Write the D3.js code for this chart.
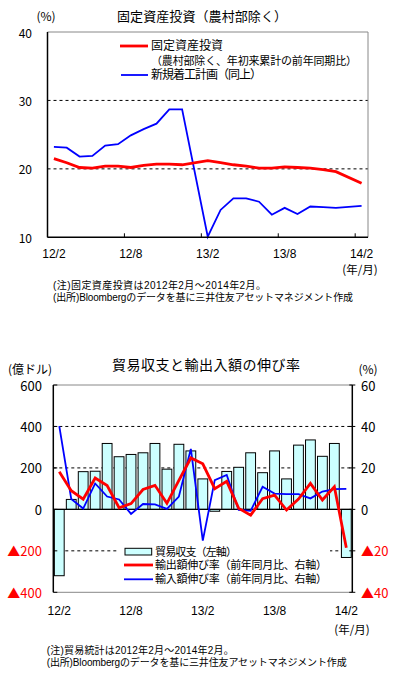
<!DOCTYPE html>
<html>
<head>
<meta charset="utf-8">
<script src="https://cdn.jsdelivr.net/npm/d3@7"></script>
<style>
  body { margin: 0; background: #fff; }
  text { font-family: "Noto Sans CJK JP", sans-serif; fill: #000; }
  text.num, text.mix { font-family: "Liberation Sans", "Noto Sans CJK JP", sans-serif; }
</style>
</head>
<body>
<div id="content"></div>
<script>
// months 2012/2 - 2014/2
const months = ['12/2','12/3','12/4','12/5','12/6','12/7','12/8','12/9','12/10','12/11','12/12',
  '13/1','13/2','13/3','13/4','13/5','13/6','13/7','13/8','13/9','13/10','13/11','13/12','14/1','14/2'];
const xTickLabels = ['12/2', '12/8', '13/2', '13/8', '14/2'];

// chart 1 : fixed asset investment (%), Jan is not published
const fixedInvest = [21.5, 20.9, 20.2, 20.1, 20.4, 20.4, 20.2, 20.5, 20.7, 20.7, 20.6, null,
  21.2, 20.9, 20.6, 20.4, 20.1, 20.1, 20.3, 20.2, 20.1, 19.9, 19.6, null, 17.9];
const newProjects = [23.2, 23.1, 21.8, 21.9, 23.4, 23.6, 24.9, 25.8, 26.6, 28.7, 28.7, null,
  10.1, 14.0, 15.7, 15.7, 15.2, 13.3, 14.3, 13.4, 14.5, 14.4, 14.3, null, 14.6];
const y1Ticks = [10, 20, 30, 40];

// chart 2 : trade balance (100m USD) and growth (%)
const tradeBalance = [-320, 48, 182, 184, 318, 254, 265, 273, 318, 194, 314, 282, 147, -9,
  183, 203, 273, 177, 282, 147, 310, 335, 256, 318, -232];
const exportGrowth = [18.1, 9.0, 4.9, 15.1, 11.5, 0.8, 2.8, 9.6, 11.6, 2.9, 14.0, 24.8, 22.0,
  10.0, 13.5, 0.5, -2.8, 5.2, 6.9, -0.3, 5.0, 12.5, 4.5, 10.9, -18.5];
const importGrowth = [40.2, 5.0, 0.4, 12.5, 6.2, 4.8, -2.2, 2.6, 2.4, 0.2, 6.2, 29.2, -15.1,
  14.1, 16.6, -0.3, -0.7, 10.9, 7.6, 7.4, 7.4, 5.3, 8.6, 9.8, 9.9];
const yLTicks = [600, 400, 200, 0, -200, -400];
const yRTicks = [60, 40, 20, 0, -20, -40];

let svg = d3.select('#content').append('svg')
  .attr('width', 397).attr('height', 681);

function fmtTick(v) {
  return v < 0 ? '▲' + Math.abs(v) : String(v);
}

// ---------------- chart 1 ----------------
{
  let left = 47.5, right = 368, top = 32, bottom = 237.3;
  let x = d3.scaleBand().domain(months).range([left, right]);
  let y = d3.scaleLinear().domain([10, 40]).range([bottom, top]);
  let g = svg.append('g');

  // dashed grid
  g.selectAll('.grid').data([20, 30]).enter().append('line')
    .attr('x1', left).attr('x2', right)
    .attr('y1', (d) => y(d)).attr('y2', (d) => y(d))
    .attr('stroke', '#000').attr('stroke-dasharray', '3,3');

  // frame
  g.append('line').attr('x1', left).attr('x2', right).attr('y1', top).attr('y2', top).attr('stroke', '#888');
  g.append('line').attr('x1', right).attr('x2', right).attr('y1', top).attr('y2', bottom).attr('stroke', '#888');

  let line = d3.line()
    .x((d) => x(d.m) + x.bandwidth() / 2)
    .y((d) => y(d.v));
  let pts = (arr) => arr.map((v, i) => ({m: months[i], v: v})).filter((d) => d.v != null);

  g.append('path').datum(pts(newProjects)).attr('d', line)
    .attr('fill', 'none').attr('stroke', '#0000ff').attr('stroke-width', 1.8);
  g.append('path').datum(pts(fixedInvest)).attr('d', line)
    .attr('fill', 'none').attr('stroke', '#ff0000').attr('stroke-width', 2.8);

  // axes
  g.append('line').attr('x1', left).attr('x2', left).attr('y1', top).attr('y2', bottom).attr('stroke', '#000').attr('stroke-width', 1.5);
  g.append('line').attr('x1', left).attr('x2', right).attr('y1', bottom).attr('y2', bottom).attr('stroke', '#000').attr('stroke-width', 1.5);
  g.selectAll('.xtick').data(xTickLabels).enter().append('line')
    .attr('x1', (d) => x(d)).attr('x2', (d) => x(d))
    .attr('y1', bottom).attr('y2', bottom - 4).attr('stroke', '#000');

  g.selectAll('.ylab').data(y1Ticks).enter().append('text')
    .attr('x', 32).attr('y', (d) => y(d)).attr('text-anchor', 'end')
    .attr('dominant-baseline', 'central').style('font-size', '12px')
    .text((d) => d);
  g.selectAll('.xlab').data(xTickLabels).enter().append('text')
    .attr('class', 'num')
    .attr('x', (d) => x(d) + x.bandwidth() / 2).attr('y', 254).attr('text-anchor', 'middle')
    .attr('dominant-baseline', 'central').style('font-size', '12px')
    .text((d) => d);

  g.append('text').attr('x', 360).attr('y', 269).attr('text-anchor', 'middle')
    .attr('dominant-baseline', 'central').style('font-size', '11.5px').text('(年/月)');
  g.append('text').attr('x', 46).attr('y', 15).attr('text-anchor', 'middle')
    .attr('dominant-baseline', 'central').style('font-size', '12px').text('(%)');
  g.append('text').attr('x', 202).attr('y', 15).attr('text-anchor', 'middle')
    .attr('dominant-baseline', 'central').style('font-size', '13px')
    .attr('textLength', 170).text('固定資産投資（農村部除く）');

  // legend
  let lg = g.append('g');
  lg.append('line').attr('x1', 120).attr('x2', 148).attr('y1', 46).attr('y2', 46).attr('stroke', '#ff0000').attr('stroke-width', 2.8);
  lg.append('line').attr('x1', 121).attr('x2', 148).attr('y1', 75).attr('y2', 75).attr('stroke', '#0000ff').attr('stroke-width', 1.8);
  lg.append('text').attr('class', 'mix').attr('x', 151).attr('y', 46).attr('dominant-baseline', 'central').style('font-size', '12px').text('固定資産投資');
  lg.append('text').attr('class', 'mix').attr('x', 151).attr('y', 61).attr('dominant-baseline', 'central').style('font-size', '11px')
    .attr('textLength', 206).text('（農村部除く、年初来累計の前年同期比）');
  lg.append('text').attr('class', 'mix').attr('x', 151).attr('y', 75).attr('dominant-baseline', 'central').style('font-size', '12px')
    .attr('textLength', 111).text('新規着工計画（同上）');

  g.append('text').attr('class', 'mix').attr('x', 53).attr('y', 285.5).attr('dominant-baseline', 'central').style('font-size', '10px')
    .attr('textLength', 213).text('(注)固定資産投資は2012年2月～2014年2月。');
  g.append('text').attr('class', 'mix').attr('x', 53).attr('y', 297).attr('dominant-baseline', 'central').style('font-size', '10px')
    .attr('textLength', 300).text('(出所)Bloombergのデータを基に三井住友アセットマネジメント作成');
}

// ---------------- chart 2 ----------------
{
  let left = 53.3, right = 352.3, top = 385, bottom = 592.3;
  let x = d3.scaleBand().domain(months).range([left, right]).paddingInner(0.18).paddingOuter(0.09);
  let xc = (m) => x(m) + x.bandwidth() / 2;
  let yL = d3.scaleLinear().domain([-400, 600]).range([bottom, top]);
  let yR = d3.scaleLinear().domain([-40, 60]).range([bottom, top]);
  let g = svg.append('g');

  g.selectAll('.grid').data([400, 200, -200]).enter().append('line')
    .attr('x1', left).attr('x2', right)
    .attr('y1', (d) => yL(d)).attr('y2', (d) => yL(d))
    .attr('stroke', '#000').attr('stroke-dasharray', '3,3');
  g.append('line').attr('x1', left).attr('x2', right).attr('y1', top).attr('y2', top).attr('stroke', '#888');
  g.append('line').attr('x1', left).attr('x2', right).attr('y1', bottom).attr('y2', bottom).attr('stroke', '#888');

  g.selectAll('.bar').data(tradeBalance).enter().append('rect')
    .attr('x', (d, i) => x(months[i]))
    .attr('width', x.bandwidth())
    .attr('y', (d) => yL(Math.max(0, d)))
    .attr('height', (d) => Math.abs(yL(d) - yL(0)))
    .attr('fill', '#ccffff').attr('stroke', '#000').attr('stroke-width', 1);

  g.append('line').attr('x1', left).attr('x2', right).attr('y1', yL(0)).attr('y2', yL(0)).attr('stroke', '#000').attr('stroke-width', 1.2);

  let line = d3.line().x((d, i) => xc(months[i])).y((d) => yR(d));
  g.append('path').datum(importGrowth).attr('d', line)
    .attr('fill', 'none').attr('stroke', '#0000ff').attr('stroke-width', 1.8);
  g.append('path').datum(exportGrowth).attr('d', line)
    .attr('fill', 'none').attr('stroke', '#ff0000').attr('stroke-width', 2.8);

  // axes
  g.append('line').attr('x1', left).attr('x2', left).attr('y1', top).attr('y2', bottom).attr('stroke', '#000').attr('stroke-width', 1.5);
  g.append('line').attr('x1', right).attr('x2', right).attr('y1', top).attr('y2', bottom).attr('stroke', '#000').attr('stroke-width', 1.5);
  g.selectAll('.lt').data(yLTicks).enter().append('line')
    .attr('x1', left).attr('x2', left + 4).attr('y1', (d) => yL(d)).attr('y2', (d) => yL(d)).attr('stroke', '#000');
  g.selectAll('.rt').data(yRTicks).enter().append('line')
    .attr('x1', right - 3).attr('x2', right + 3).attr('y1', (d) => yR(d)).attr('y2', (d) => yR(d)).attr('stroke', '#000');

  g.selectAll('.ylab').data(yLTicks).enter().append('text')
    .attr('x', 42).attr('y', (d) => yL(d)).attr('text-anchor', 'end')
    .attr('dominant-baseline', 'central').style('font-size', '13px')
    .style('fill', (d) => d < 0 ? '#ff0000' : '#000')
    .text(fmtTick);
  g.selectAll('.yrlab').data(yRTicks).enter().append('text')
    .attr('x', 361).attr('y', (d) => yR(d))
    .attr('dominant-baseline', 'central').style('font-size', '13px')
    .style('fill', (d) => d < 0 ? '#ff0000' : '#000')
    .text(fmtTick);
  g.selectAll('.xlab').data(xTickLabels).enter().append('text')
    .attr('class', 'num')
    .attr('x', (d) => xc(d)).attr('y', 611).attr('text-anchor', 'middle')
    .attr('dominant-baseline', 'central').style('font-size', '12px')
    .text((d) => d);

  g.append('text').attr('x', 352).attr('y', 628.5).attr('text-anchor', 'middle')
    .attr('dominant-baseline', 'central').style('font-size', '11.5px').text('(年/月)');
  g.append('text').attr('x', 8).attr('y', 368)
    .attr('dominant-baseline', 'central').style('font-size', '12px')
    .text('(億ドル)');
  g.append('text').attr('x', 368).attr('y', 368).attr('text-anchor', 'middle')
    .attr('dominant-baseline', 'central').style('font-size', '12px').text('(%)');
  g.append('text').attr('x', 206).attr('y', 364).attr('text-anchor', 'middle')
    .attr('dominant-baseline', 'central').style('font-size', '14px')
    .attr('textLength', 188).text('貿易収支と輸出入額の伸び率');

  // legend
  let lg = g.append('g');
  lg.append('rect').attr('x', 118).attr('y', 543).attr('width', 212).attr('height', 44).attr('fill', '#fff');
  lg.append('rect').attr('x', 125).attr('y', 548.3).attr('width', 26.7).attr('height', 6.7)
    .attr('fill', '#ccffff').attr('stroke', '#000');
  lg.append('line').attr('x1', 124).attr('x2', 153).attr('y1', 565).attr('y2', 565).attr('stroke', '#ff0000').attr('stroke-width', 2.8);
  lg.append('line').attr('x1', 124).attr('x2', 153).attr('y1', 579.3).attr('y2', 579.3).attr('stroke', '#0000ff').attr('stroke-width', 1.8);
  lg.append('text').attr('class', 'mix').attr('x', 155).attr('y', 551.7).attr('dominant-baseline', 'central').style('font-size', '11px')
    .attr('textLength', 82).text('貿易収支（左軸）');
  lg.append('text').attr('class', 'mix').attr('x', 155).attr('y', 565.3).attr('dominant-baseline', 'central').style('font-size', '11px')
    .attr('textLength', 172).text('輸出額伸び率（前年同月比、右軸）');
  lg.append('text').attr('class', 'mix').attr('x', 155).attr('y', 579.3).attr('dominant-baseline', 'central').style('font-size', '11px')
    .attr('textLength', 172).text('輸入額伸び率（前年同月比、右軸）');

  g.append('text').attr('class', 'mix').attr('x', 46.7).attr('y', 650.5).attr('dominant-baseline', 'central').style('font-size', '10px')
    .attr('textLength', 187).text('(注)貿易統計は2012年2月～2014年2月。');
  g.append('text').attr('class', 'mix').attr('x', 46.7).attr('y', 662).attr('dominant-baseline', 'central').style('font-size', '10px')
    .attr('textLength', 300).text('(出所)Bloombergのデータを基に三井住友アセットマネジメント作成');
}
</script>
</body>
</html>
